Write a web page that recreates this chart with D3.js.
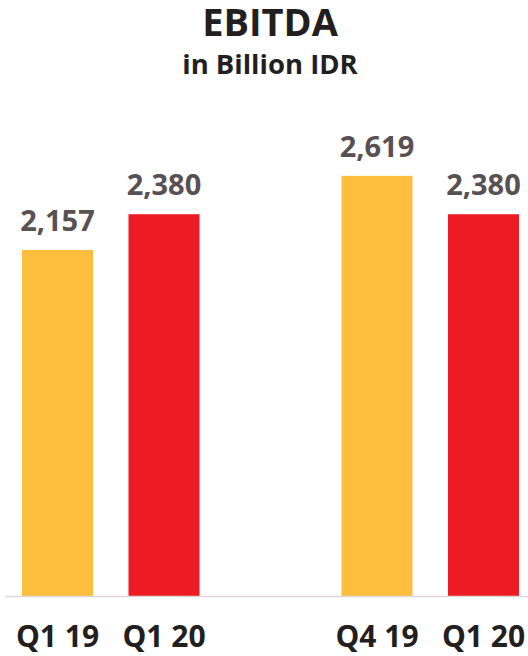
<!DOCTYPE html>
<html><head><meta charset="utf-8">
<script src="https://cdn.jsdelivr.net/npm/d3@7"></script>
<style>html,body{margin:0;padding:0;background:#fff;}svg{display:block;}</style>
</head><body>
<script>
const categories = ["Q1 19", "Q1 20", "", "Q4 19", "Q1 20"];
const slotKeys = ["a", "b", "gap", "c", "d"];
const values = [2157, 2380, null, 2619, 2380];
const valueLabels = ["2,157", "2,380", "", "2,619", "2,380"];
const barColors = ["#FDBE3D", "#ED1C24", null, "#FDBE3D", "#ED1C24"];

const W = 528, H = 656;
const svg = d3.select("body").append("svg").attr("width", W).attr("height", H);
const font = "'Open Sans', sans-serif";

const x = d3.scaleBand().domain(slotKeys).range([4.25, 536.75]).paddingInner(1/3).paddingOuter(1/6);
const y = d3.scaleLinear().domain([0, 3000]).range([596, 596 - 3000/6.234]);

const data = slotKeys.map((k, i) => ({k, cat: categories[i], v: values[i], lab: valueLabels[i], c: barColors[i]})).filter(d => d.v != null);

svg.append("text").attr("x", 270).attr("y", 35.5).attr("text-anchor", "middle")
  .attr("font-family", font).attr("font-weight", 700).attr("font-size", 38).attr("fill", "#231F20").text("EBITDA");
svg.append("text").attr("x", 270).attr("y", 74).attr("text-anchor", "middle")
  .attr("font-family", font).attr("font-weight", 700).attr("font-size", 27.5).attr("fill", "#231F20").text("in Billion IDR");

svg.selectAll("rect.bar").data(data).join("rect").attr("class", "bar")
  .attr("x", d => x(d.k)).attr("width", x.bandwidth())
  .attr("y", d => y(d.v)).attr("height", d => y(0) - y(d.v)).attr("fill", d => d.c);

svg.append("line").attr("x1", 5).attr("x2", 528).attr("y1", 596.5).attr("y2", 596.5)
  .attr("stroke", "#DDD7D9").attr("stroke-width", 1.5);

svg.selectAll("text.val").data(data).join("text").attr("class", "val")
  .attr("x", d => x(d.k) + x.bandwidth()/2).attr("y", d => y(d.v) - 19)
  .attr("text-anchor", "middle").attr("font-family", font).attr("font-weight", 700)
  .attr("font-size", 29).attr("fill", "#585053").text(d => d.lab);

svg.selectAll("text.cat").data(data).join("text").attr("class", "cat")
  .attr("x", d => x(d.k) + x.bandwidth()/2).attr("y", 647)
  .attr("text-anchor", "middle").attr("font-family", font).attr("font-weight", 700)
  .attr("font-size", 30).attr("fill", "#231F20").text(d => d.cat);
</script>
</body></html>
